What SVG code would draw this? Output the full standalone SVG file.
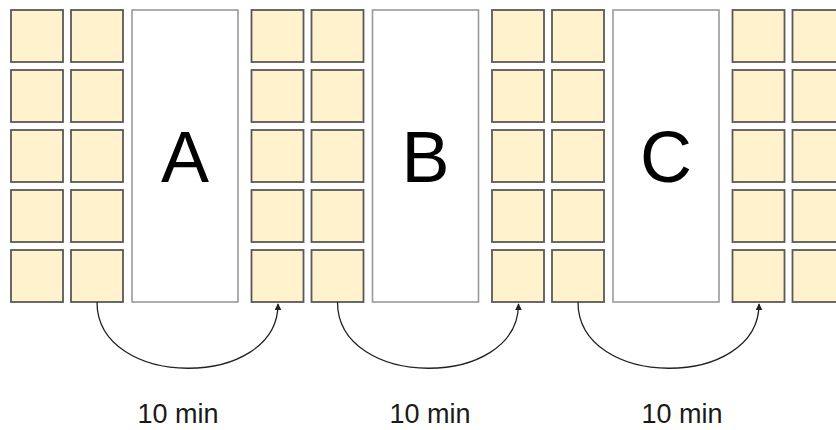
<svg xmlns="http://www.w3.org/2000/svg" width="836" height="430" viewBox="0 0 836 430">
  <defs>
    <style>
      .cell { fill: #fff2cc; stroke: #595959; stroke-width: 1.8; }
      .room { fill: #ffffff; stroke: #999999; stroke-width: 1.6; }
      .big { font-family: "Liberation Sans", Arial, sans-serif; font-size: 72px; fill: #000000; text-anchor: middle; }
      .lbl { font-family: "Liberation Sans", Arial, sans-serif; font-size: 27px; fill: #1a1a1a; text-anchor: middle; }
      .link { fill: none; stroke: #222222; stroke-width: 1.3; marker-end: url(#head); }
    </style>
    <marker id="head" viewBox="0 0 10 10" refX="9" refY="5" markerWidth="7" markerHeight="7" markerUnits="userSpaceOnUse" orient="auto">
      <path d="M0,0 L10,5 L0,10 z" fill="#222222"/>
    </marker>
    <g id="col">
      <rect class="cell" x="0" y="10" width="52" height="52"/>
      <rect class="cell" x="0" y="70" width="52" height="52"/>
      <rect class="cell" x="0" y="130" width="52" height="52"/>
      <rect class="cell" x="0" y="190" width="52" height="52"/>
      <rect class="cell" x="0" y="250" width="52" height="52"/>
    </g>
  </defs>

  <!-- seat columns -->
  <g id="seats-1"><use href="#col" x="11"/><use href="#col" x="71"/></g>
  <g id="seats-2"><use href="#col" x="251.5"/><use href="#col" x="311.5"/></g>
  <g id="seats-3"><use href="#col" x="492"/><use href="#col" x="552"/></g>
  <g id="seats-4"><use href="#col" x="732.5"/><use href="#col" x="792.5"/></g>

  <!-- rooms -->
  <g id="room-a">
    <rect class="room" x="132" y="10" width="106" height="292"/>
    <text class="big" x="185" y="182">A</text>
  </g>
  <g id="room-b">
    <rect class="room" x="372.5" y="10" width="106" height="292"/>
    <text class="big" x="425.5" y="182">B</text>
  </g>
  <g id="room-c">
    <rect class="room" x="613" y="10" width="106" height="292"/>
    <text class="big" x="666" y="182">C</text>
  </g>

  <!-- transfers -->
  <g id="connectors">
    <path class="link" d="M97,302 C97,390 278,390 278,304"/>
    <path class="link" d="M337.5,302 C337.5,390 518.5,390 518.5,304"/>
    <path class="link" d="M578,302 C578,390 759,390 759,304"/>
  </g>

  <g id="labels">
    <text class="lbl" x="178" y="423">10 min</text>
    <text class="lbl" x="430" y="423">10 min</text>
    <text class="lbl" x="682" y="423">10 min</text>
  </g>
</svg>
